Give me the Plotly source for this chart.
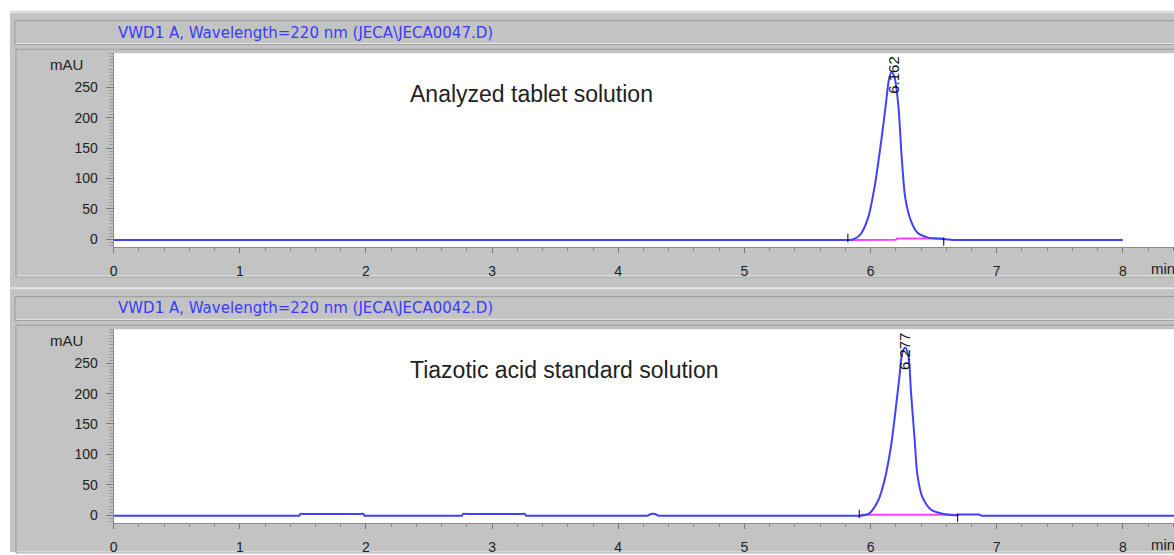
import plotly.graph_objects as go

W, H = 1174, 555

# ---------------- data ----------------
# Panel 1 : analyzed tablet solution (time in min, signal in mAU)
time_1 = [0.0, 5.78, 5.82, 5.86, 5.92, 5.98, 6.03, 6.08, 6.12, 6.145, 6.165, 6.19, 6.22,
          6.245, 6.275, 6.32, 6.37, 6.45, 6.58, 6.66, 6.70, 8.0]
mau_1 = [-1.5, -1.5, -1.5, -0.5, 8, 35, 84, 155, 220, 262, 275, 266, 220,
         140, 68, 30, 11, 3, 0, -1.5, -1.5, -1.5]
base1_t = [5.83, 6.20, 6.21, 6.58]
base1_v = [-1.2, -0.8, 1.0, 1.2]
events1_t = [5.82, 6.58]
events1_v = [2, -4]
peak1_rt = "6.162"

# Panel 2 : tiazotic acid standard solution
time_2 = [0.0, 1.45, 1.47, 1.48, 1.50, 1.96, 1.98, 1.99, 2.01, 2.74, 2.76, 2.77, 2.79,
          3.24, 3.26, 3.27, 3.29, 4.21, 4.23, 4.26, 4.29, 4.32, 4.34,
          5.88, 5.92, 5.99, 6.06, 6.11, 6.16, 6.20, 6.23, 6.25, 6.275, 6.30, 6.32, 6.35,
          6.37, 6.41, 6.48, 6.58, 6.69, 6.70, 6.72, 6.84, 6.86, 6.88, 6.90, 8.41]
mau_2 = [-1, -1, -1, 2, 2, 2, 2, -1, -1, -1, -1, 2, 2,
         2, 2, -1, -1, -1, -1, 2, 2, -1, -1,
         -1, -1, 3, 24, 57, 111, 176, 230, 266, 276, 262, 203, 122,
         68, 30, 9, 2, 0, 1, 1, 1, 1, -1, -1, -1]
base2_t = [5.92, 6.69]
base2_v = [0.5, 0.5]
events2_t = [5.91, 6.69]
events2_v = [2, -4]
peak2_rt = "6.277"

x_ticks = [0, 1, 2, 3, 4, 5, 6, 7, 8]
y_ticks = [0, 50, 100, 150, 200, 250]
titles = ["VWD1 A, Wavelength=220 nm (JECA\\JECA0047.D)",
          "VWD1 A, Wavelength=220 nm (JECA\\JECA0042.D)"]
labels = ["Analyzed tablet solution", "Tiazotic acid standard solution"]

# ---------------- helpers ----------------
def px(x):
    return x / W

def py(y):
    return 1 - y / H

BLUE = "#4040ff"
PINK = "#ff40ff"
GREY = "#c3c3c3"
TXT = "#222222"
FONT = "Liberation Sans, Arial, sans-serif"

fig = go.Figure()

panels = [
    (time_1, mau_1, base1_t, base1_v, events1_t, events1_v, "x", "y"),
    (time_2, mau_2, base2_t, base2_v, events2_t, events2_v, "x2", "y2"),
]
for t, v, bt, bv, et, ev, xa, ya in panels:
    fig.add_trace(go.Scatter(x=bt, y=bv, mode="lines", xaxis=xa, yaxis=ya,
                             line=dict(color=PINK, width=2), hoverinfo="skip"))
    fig.add_trace(go.Scatter(x=t, y=v, mode="lines", xaxis=xa, yaxis=ya,
                             line=dict(color=BLUE, width=2, shape="spline", smoothing=0.8)))
    fig.add_trace(go.Scatter(x=et, y=ev, mode="markers", xaxis=xa, yaxis=ya,
                             marker=dict(symbol="line-ns", size=6,
                                         line=dict(width=1, color="#000000")),
                             hoverinfo="skip"))

shapes = [dict(type="rect", xref="paper", yref="paper", x0=px(6), x1=px(W + 5),
               y0=py(11), y1=py(H + 5), fillcolor=GREY, line=dict(width=0), layer="below")]
annotations = []
for k in range(2):
    off = 280 * k
    shapes.append(dict(type="line", xref="paper", yref="paper", x0=px(6), x1=px(W + 5),
                       y0=py(12.5 + off), y1=py(12.5 + off),
                       line=dict(color="#e4e4e4", width=2), layer="below"))
    shapes.append(dict(type="rect", xref="paper", yref="paper", x0=px(11), x1=px(W + 5),
                       y0=py(21 + off), y1=py(45 + off), fillcolor=GREY,
                       line=dict(color="#9c9c9c", width=1), layer="below"))
    shapes.append(dict(type="line", xref="paper", yref="paper", x0=px(12), x1=px(W + 5),
                       y0=py(44 + off), y1=py(44 + off),
                       line=dict(color="#e8e8e8", width=1), layer="below"))
    shapes.append(dict(type="rect", xref="paper", yref="paper", x0=px(12), x1=px(W + 5),
                       y0=py(50 + off), y1=py(281 + off), fillcolor=GREY,
                       line=dict(color="#9c9c9c", width=1), layer="below"))
    shapes.append(dict(type="line", xref="paper", yref="paper", x0=px(13), x1=px(W + 5),
                       y0=py(280 + off), y1=py(280 + off),
                       line=dict(color="#e8e8e8", width=1), layer="below"))
    shapes.append(dict(type="rect", xref="paper", yref="paper", x0=px(110), x1=px(W + 5),
                       y0=py(251 + off), y1=py(54 + off), fillcolor="white",
                       line=dict(width=0), layer="below"))
    annotations.append(dict(xref="paper", yref="paper", x=px(303), y=py(33 + off),
                            text=titles[k], showarrow=False, xanchor="center", yanchor="middle",
                            font=dict(family="DejaVu Sans, sans-serif", size=15, color="#3a3aff")))
    annotations.append(dict(xref="paper", yref="paper", x=px(63), y=py(65 + off),
                            text="mAU", showarrow=False, xanchor="center", yanchor="middle",
                            font=dict(family=FONT, size=15, color=TXT)))
    annotations.append(dict(xref="paper", yref="paper", x=px(1149), y=py(272 + off),
                            text="min", showarrow=False, xanchor="left", yanchor="middle",
                            font=dict(family=FONT, size=15, color=TXT)))
    annotations.append(dict(xref="paper", yref="paper", x=px(405), y=py(95 + off),
                            text=labels[k], showarrow=False, xanchor="left", yanchor="middle",
                            font=dict(family=FONT, size=23, color="#222222")))

annotations.append(dict(xref="x", yref="y", x=6.175, y=270, text=peak1_rt, textangle=-90,
                        showarrow=False, xanchor="center", yanchor="middle",
                        font=dict(family=FONT, size=15, color="#111111")))
annotations.append(dict(xref="x2", yref="y2", x=6.265, y=270, text=peak2_rt, textangle=-90,
                        showarrow=False, xanchor="center", yanchor="middle",
                        font=dict(family=FONT, size=15, color="#111111")))

def xaxis(anchor):
    return dict(domain=[px(110), 1], range=[0, 8.405], anchor=anchor,
                tickmode="array", tickvals=x_ticks, ticktext=[str(v) for v in x_ticks],
                ticks="outside", ticklen=5, tickcolor="#7a7a7a", tickwidth=1,
                showline=True, linecolor="#8a8a8a", linewidth=1,
                showgrid=False, zeroline=False, ticklabelstandoff=6,
                tickfont=dict(family=FONT, size=14, color=TXT),
                minor=dict(dtick=0.2, tick0=0, ticks="outside", ticklen=3,
                           tickcolor="#8a8a8a", showgrid=False))

def yaxis(anchor, top, bottom):
    return dict(domain=[py(bottom), py(top)], range=[-13.5, 306], anchor=anchor,
                tickmode="array", tickvals=y_ticks, ticktext=[str(v) for v in y_ticks],
                ticks="outside", ticklen=7, tickcolor="#7a7a7a", tickwidth=1,
                showline=True, linecolor="#8a8a8a", linewidth=1,
                showgrid=False, zeroline=False, ticklabelstandoff=5,
                tickfont=dict(family=FONT, size=14, color=TXT),
                minor=dict(dtick=5, tick0=0, ticks="outside", ticklen=4,
                           tickcolor="#9a9a9a", showgrid=False))

fig.update_layout(
    width=W, height=H,
    margin=dict(l=0, r=0, t=0, b=0),
    paper_bgcolor="white", plot_bgcolor="white",
    showlegend=False,
    xaxis=xaxis("y"), yaxis=yaxis("x", 54, 251),
    xaxis2=xaxis("y2"), yaxis2=yaxis("x2", 334, 531),
    shapes=shapes, annotations=annotations,
)

fig.write_html(
    "out.html",
    config={"displayModeBar": False},
    post_script="document.body.style.margin='0px';document.body.style.padding='0px';"
                "document.body.style.overflow='hidden';",
)
